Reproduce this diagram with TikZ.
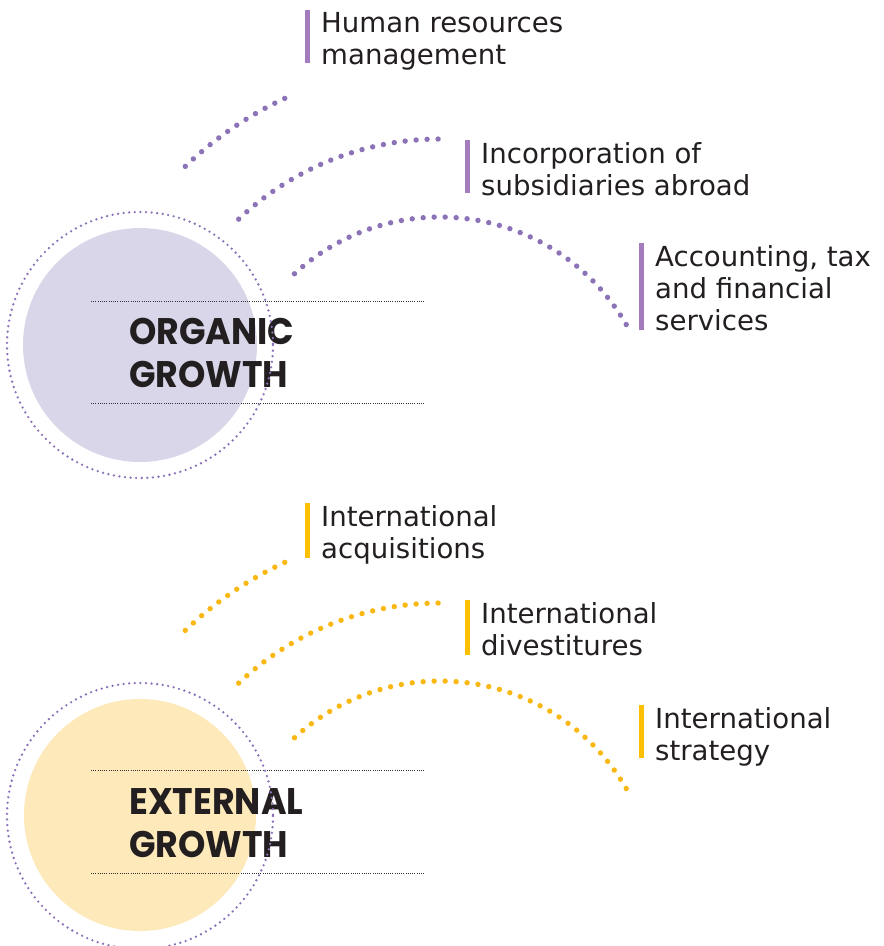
\documentclass[tikz,border=0pt]{standalone}
\usepackage{fontspec}
\setmainfont{DejaVu Sans}
\newfontfamily\headfont{Poppins}[FakeStretch=0.94]
\usetikzlibrary{calc}
\definecolor{lilacfill}{HTML}{DAD6E9}
\definecolor{goldfill}{HTML}{FDE9BA}
\definecolor{lilacdot}{HTML}{8C73B8}
\definecolor{golddot}{HTML}{F9B814}
\definecolor{lilacbar}{HTML}{A47CBE}
\definecolor{goldbar}{HTML}{FCC000}
\definecolor{inkblack}{HTML}{231F20}
\tikzset{
	topic/.style={anchor=north west, inner sep=0pt, align=left, text=inkblack, font=\fontsize{27.6}{32}\selectfont},
	headline/.style={anchor=north west, inner sep=0pt, align=left, text=inkblack, font=\headfont\bfseries\fontsize{37}{43}\selectfont},
	ringdots/.style={line width=2.6pt, color=lilacdot, line cap=round, dash pattern=on 0pt off 5.6pt},
	orgdots/.style={line width=5.4pt, color=lilacdot, line cap=round, dash pattern=on 0pt off 11pt},
	extdots/.style={line width=5.4pt, color=golddot, line cap=round, dash pattern=on 0pt off 11pt},
	guide/.style={line width=1pt, color=black!80, dash pattern=on 1pt off 1.2pt},
	lilacstroke/.style={line width=5pt, color=lilacbar},
	goldstroke/.style={line width=5pt, color=goldbar}
}

\begin{document}
\begin{tikzpicture}[x=1pt, y=-1pt]
	%%%%% START %%%%%
	
	\useasboundingbox (0, 0) rectangle (884, 946);
	
	\coordinate (orgc) at (440, 432);
	\coordinate (extc) at (440, 896);
	
	% organic growth
	\fill[color=lilacfill] (140, 345) circle (117);
	\draw[guide] (91, 301) -- (425, 301);
	\draw[guide] (91, 403) -- (425, 403);
	\node[headline] (organic) at (129, 318) {ORGANIC\\GROWTH};
	\draw[ringdots] (140, 345) circle (133);
	
	\draw[orgdots] (orgc) ++(-133.8:368) arc (-133.8:-114.3:368);
	\draw[orgdots] (orgc) ++(-133.4:293) arc (-133.4:-88.4:293);
	\draw[orgdots] (orgc) ++(-132.6:215) arc (-132.6:-29.9:215);
	
	\node[topic] (hr) at (321, 12) {Human resources\\management};
	\node[topic] (subs) at (481, 142) {Incorporation of\\subsidiaries abroad};
	\node[topic] (acct) at (655, 245) {Accounting, tax\\and financial\\services};
	\draw[lilacstroke] ([xshift=-14]hr.north west) ++(0, -2) -- ++(0, 53);
	\draw[lilacstroke] ([xshift=-14]subs.north west) ++(0, -2) -- ++(0, 53);
	\draw[lilacstroke] ([xshift=-14]acct.north west) ++(0, -2) -- ++(0, 87);
	
	% external growth
	\fill[color=goldfill] (140, 815) circle (116);
	\draw[guide] (91, 770) -- (425, 770);
	\draw[guide] (91, 873) -- (425, 873);
	\node[headline] (external) at (129, 788) {EXTERNAL\\GROWTH};
	\draw[ringdots] (140, 816) circle (133);
	
	\draw[extdots] (extc) ++(-133.8:368) arc (-133.8:-114.3:368);
	\draw[extdots] (extc) ++(-133.4:293) arc (-133.4:-88.4:293);
	\draw[extdots] (extc) ++(-132.6:215) arc (-132.6:-29.9:215);
	
	\node[topic] (acq) at (321, 505) {International\\acquisitions};
	\node[topic] (divest) at (481, 602) {International\\divestitures};
	\node[topic] (strat) at (655, 707) {International\\strategy};
	\draw[goldstroke] ([xshift=-14]acq.north west) ++(0, -2) -- ++(0, 55);
	\draw[goldstroke] ([xshift=-14]divest.north west) ++(0, -2) -- ++(0, 55);
	\draw[goldstroke] ([xshift=-14]strat.north west) ++(0, -2) -- ++(0, 53);
	
	%%%%% END %%%%%
\end{tikzpicture}
\end{document}
